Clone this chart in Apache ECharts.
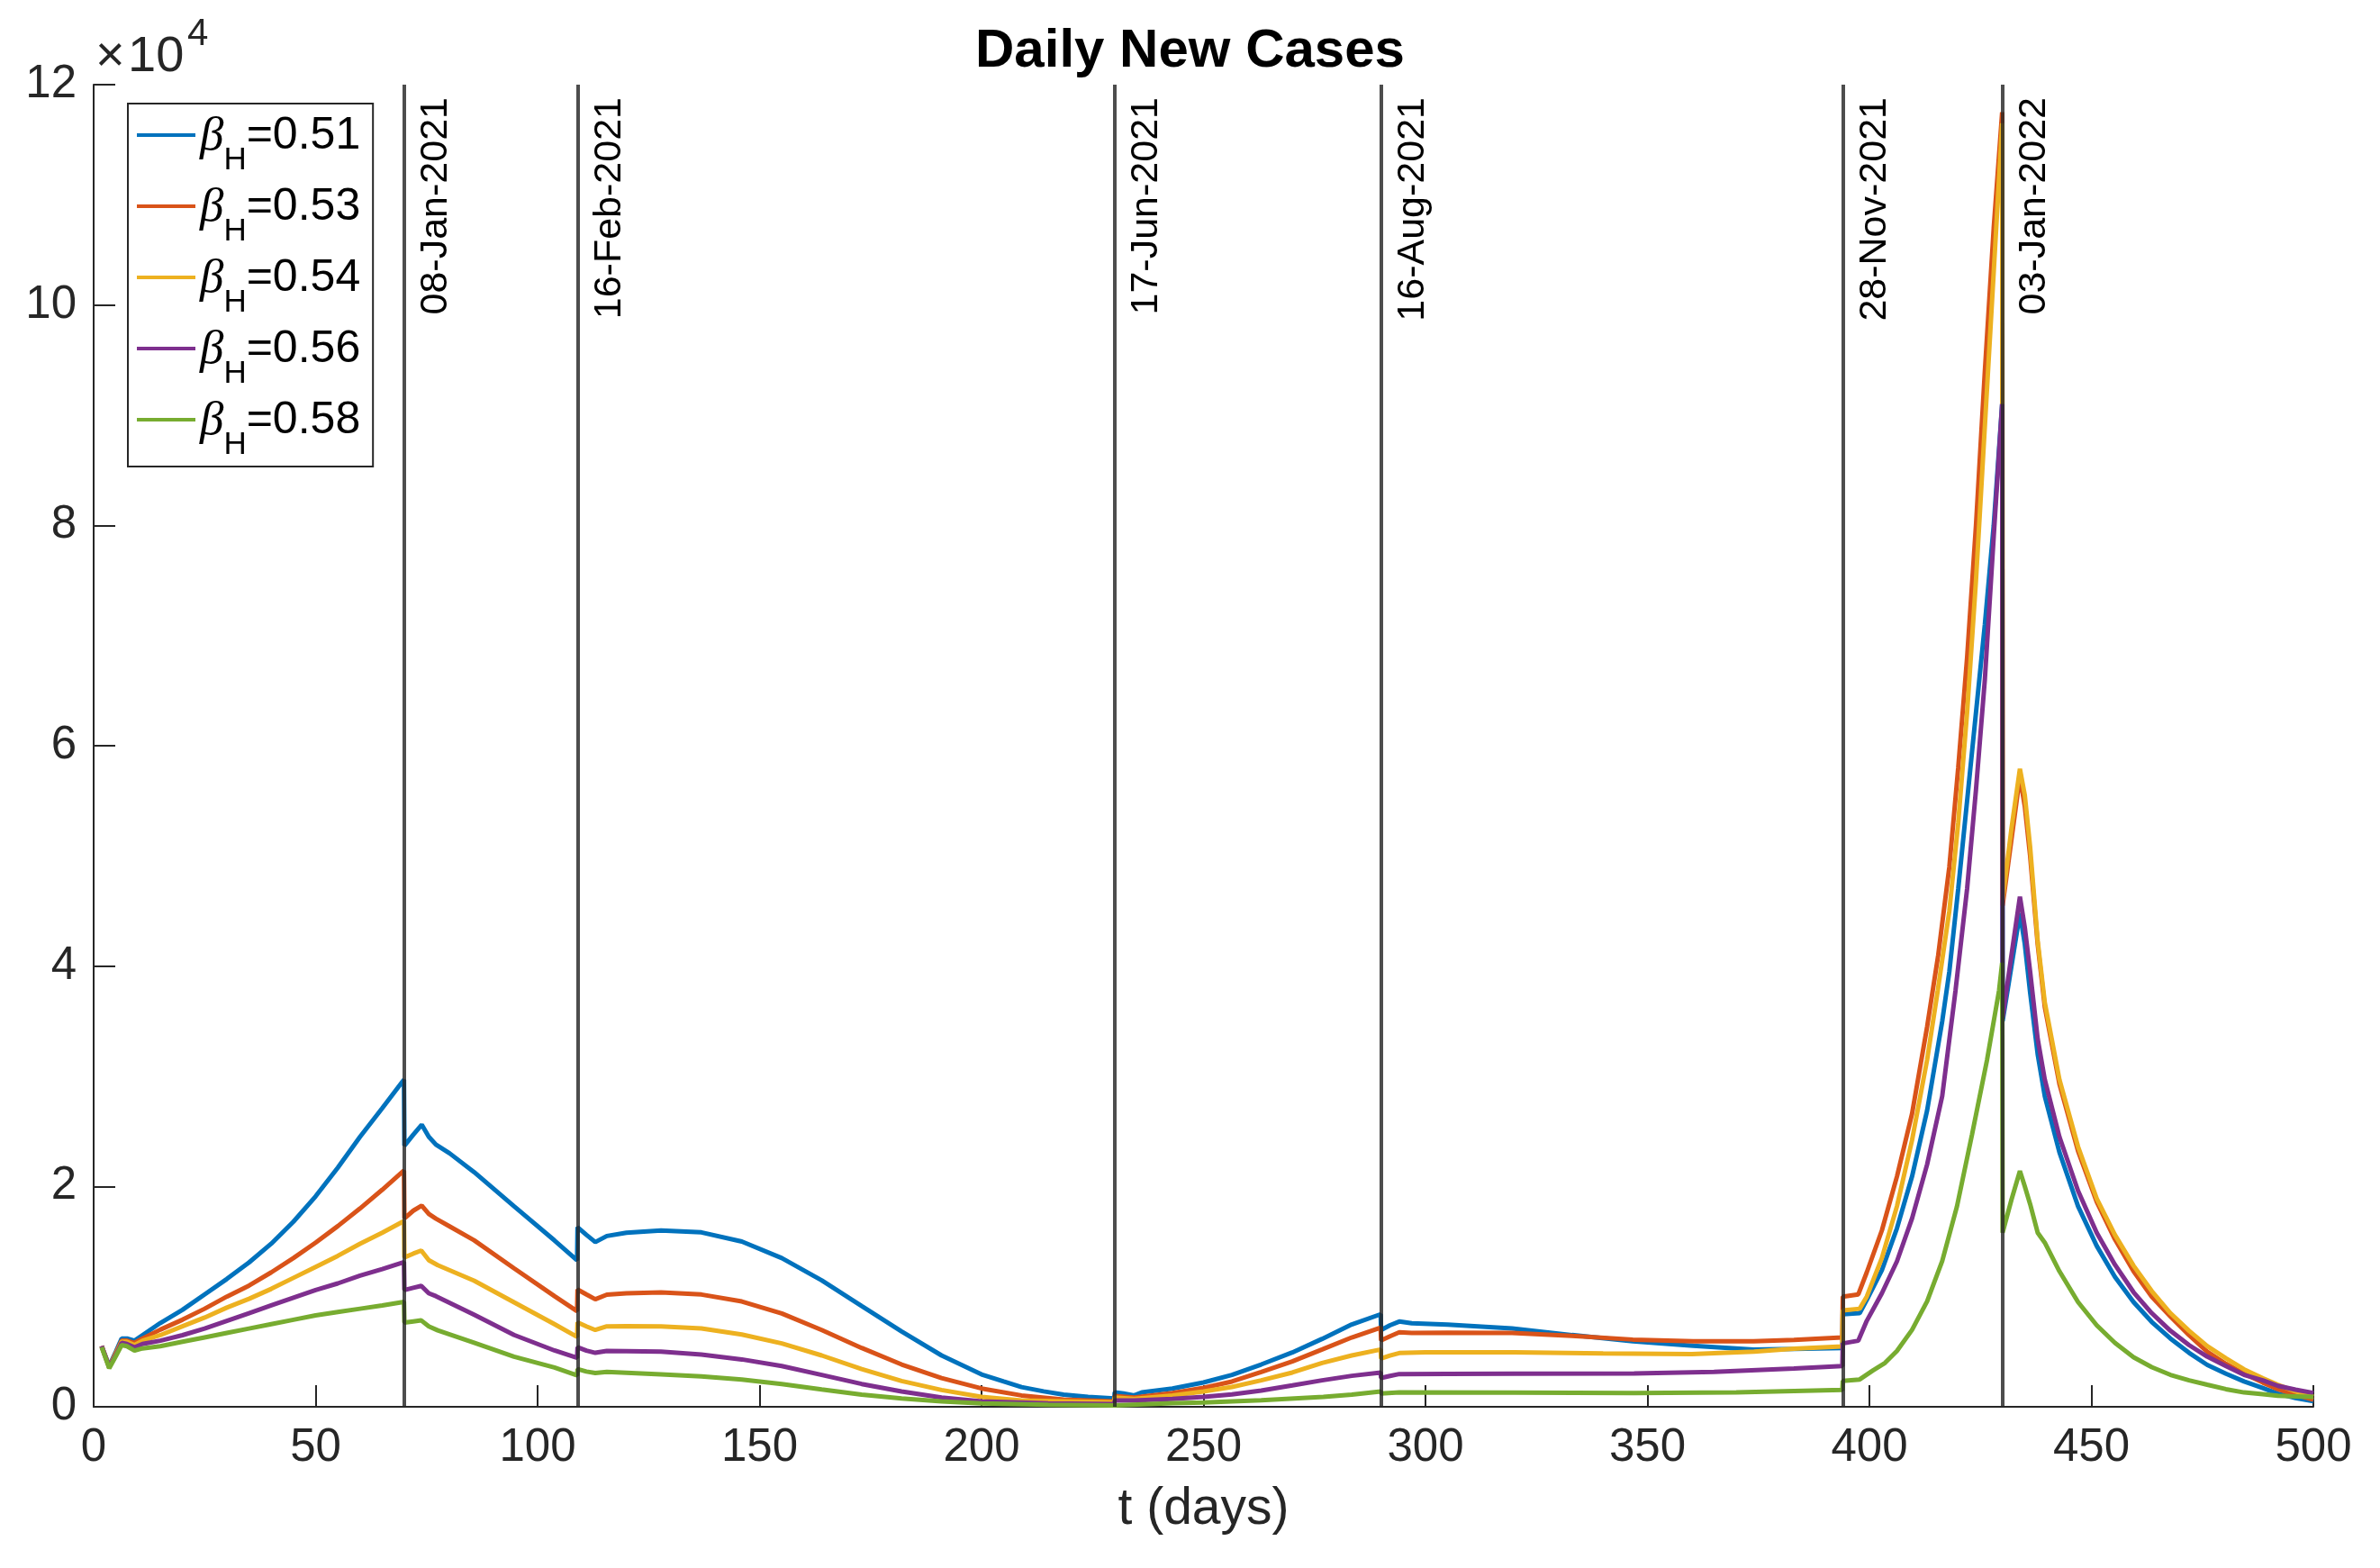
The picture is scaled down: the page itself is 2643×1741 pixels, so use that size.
<!DOCTYPE html>
<html>
<head>
<meta charset="utf-8">
<script src="https://cdn.jsdelivr.net/npm/echarts@6/dist/echarts.min.js"></script>
<style>
html,body{margin:0;padding:0;background:#fff;}
#chart{width:2643px;height:1741px;}
</style>
</head>
<body>
<div id="chart"></div>
<script>
// values in units of 10^4 daily new cases, [t (days), value]
const beta051 = [[1.8,0.55],[3.5,0.37],[5,0.5],[6.3,0.62],[7.5,0.62],[9.2,0.6],[11,0.65],[15,0.76],[20,0.88],[25,1.02],[30,1.16],[35,1.31],[40,1.48],[45,1.68],[50,1.91],[55,2.17],[60,2.45],[65,2.71],[69.9,2.97],
[70,2.37],[72,2.47],[73.9,2.56],[75.5,2.45],[77.1,2.38],[80.2,2.3],[85.7,2.13],[94.7,1.82],[103.8,1.51],[108.9,1.33],
[109,1.63],[111,1.56],[113,1.495],[115.6,1.55],[120,1.58],[127.8,1.6],[136.9,1.583],[146,1.5],[155,1.35],[164,1.147],[173,0.915],[182,0.684],[191,0.466],[200,0.294],[205,0.23],[209,0.179],[214,0.14],[218.5,0.111],[224,0.09],[229.9,0.076],
[230,0.131],[232,0.12],[234.4,0.103],[236.1,0.131],[243,0.166],[250,0.221],[256.4,0.289],[263,0.384],[270,0.493],[276.7,0.616],[283.4,0.747],[289.9,0.84],
[290,0.697],[292,0.74],[294.1,0.774],[296.9,0.758],[305,0.746],[319.5,0.711],[333,0.651],[346.7,0.594],[360.3,0.553],[373.9,0.52],[383,0.526],[393.9,0.534],
[394,0.84],[397.8,0.85],[399.4,0.97],[402.8,1.24],[406.2,1.62],[409.6,2.09],[413,2.69],[416.4,3.5],[418,3.95],[420,4.7],[422,5.5],[424,6.3],[426,7.1],[428,8.0],[429.9,9.1],
[430,3.5],[432,4.0],[433.9,4.48],[435,4.2],[436.2,3.76],[437.9,3.2],[439.5,2.82],[442.8,2.31],[447,1.82],[451.2,1.46],[455.3,1.18],[459.5,0.95],[463.6,0.77],[467.8,0.62],[472,0.49],[476.1,0.38],[480.3,0.3],[484.4,0.23],[488.6,0.17],[492,0.12],[496,0.08],[500,0.05]];

const beta053 = [[1.8,0.55],[3.5,0.36],[5,0.49],[6.3,0.6],[7.5,0.6],[9.2,0.58],[11,0.62],[15,0.7],[20,0.79],[25,0.89],[30,1.0],[35,1.1],[40,1.22],[45,1.35],[50,1.49],[55,1.64],[60,1.8],[65,1.97],[69.9,2.144],
[70,1.71],[72,1.78],[73.9,1.826],[75.5,1.75],[77.1,1.708],[80.2,1.637],[85.7,1.511],[94.7,1.257],[103.8,1.004],[108.9,0.868],
[109,1.065],[111,1.02],[113,0.976],[115.6,1.018],[120,1.03],[127.8,1.038],[136.9,1.019],[146,0.956],[155,0.847],[164,0.697],[173,0.534],[182,0.384],[191,0.261],[200,0.166],[209,0.103],[218.5,0.065],[229.9,0.05],
[230,0.098],[234.4,0.084],[243,0.125],[250,0.172],[256.4,0.229],[263,0.316],[270,0.412],[276.7,0.52],[283.4,0.629],[289.9,0.719],
[290,0.602],[292,0.64],[294.1,0.676],[296.9,0.67],[305,0.672],[319.5,0.67],[333,0.643],[346.7,0.61],[360.3,0.594],[373.9,0.594],[383,0.607],[393.9,0.629],
[394,1.0],[397.5,1.02],[399.4,1.22],[402.8,1.6],[406.2,2.09],[409.6,2.66],[413,3.45],[415.5,4.1],[418,4.9],[420,5.8],[422,6.8],[424,8.0],[426,9.4],[428,10.7],[429.9,11.75],
[430,4.55],[432,5.15],[433.9,5.72],[435,5.45],[436.2,5.0],[437.9,4.2],[439.5,3.63],[442.8,2.93],[447,2.32],[451.2,1.86],[455.3,1.52],[459.5,1.23],[463.6,1.0],[467.8,0.82],[472,0.65],[476.1,0.5],[480.3,0.39],[484.4,0.3],[488.6,0.22],[492,0.16],[496,0.11],[500,0.064]];

const beta054 = [[1.8,0.55],[3.5,0.36],[5,0.48],[6.3,0.59],[7.5,0.59],[9.2,0.56],[11,0.6],[15,0.65],[20,0.73],[25,0.81],[30,0.9],[35,0.98],[40,1.07],[45,1.17],[50,1.27],[55,1.37],[60,1.48],[65,1.58],[69.9,1.686],
[70,1.356],[72,1.39],[73.8,1.418],[75.5,1.33],[77.5,1.285],[85.7,1.145],[94.7,0.948],[103.8,0.75],[108.9,0.635],
[109,0.766],[111,0.73],[113,0.697],[115.6,0.73],[120,0.732],[127.8,0.73],[136.9,0.711],[146,0.656],[155,0.575],[164,0.466],[173,0.343],[182,0.234],[191,0.152],[200,0.09],[209,0.057],[229.9,0.04],
[230,0.084],[234.4,0.071],[243,0.103],[250,0.139],[256.4,0.18],[263,0.24],[270,0.311],[276.7,0.398],[283.4,0.466],[289.9,0.52],
[290,0.439],[292,0.465],[294.1,0.488],[300,0.495],[320,0.495],[340,0.485],[360,0.479],[374,0.501],[383,0.528],[393.9,0.547],
[394,0.874],[397.8,0.89],[399.4,1.0],[402.8,1.35],[406.2,1.82],[409.6,2.42],[413,3.15],[415.4,3.78],[418,4.5],[420,5.3],[422,6.3],[424,7.5],[426,8.9],[428,10.3],[429.9,11.65],
[430,4.6],[432,5.25],[433.9,5.79],[435,5.55],[436.2,5.08],[437.9,4.23],[439.5,3.67],[442.8,2.97],[447,2.36],[451.2,1.89],[455.3,1.56],[459.5,1.28],[463.6,1.05],[467.8,0.85],[472,0.69],[476.1,0.55],[480.3,0.44],[484.4,0.34],[488.6,0.26],[492,0.2],[496,0.14],[500,0.09]];

const beta056 = [[1.8,0.55],[3.5,0.36],[5,0.47],[6.3,0.58],[7.5,0.57],[9.2,0.54],[11,0.57],[15,0.6],[20,0.65],[25,0.71],[30,0.78],[35,0.85],[40,0.92],[45,0.99],[50,1.06],[55,1.12],[60,1.19],[65,1.25],[69.9,1.314],
[70,1.06],[72,1.08],[73.8,1.097],[75.5,1.03],[77.1,1.004],[85.7,0.835],[94.7,0.652],[103.8,0.511],[108.9,0.444],
[109,0.54],[111,0.51],[113,0.49],[115.6,0.507],[120,0.505],[127.8,0.501],[136.9,0.474],[146,0.43],[155,0.37],[164,0.289],[173,0.207],[182,0.139],[191,0.084],[200,0.049],[215,0.03],[229.9,0.025],
[230,0.057],[234.4,0.057],[243,0.071],[250,0.09],[256.4,0.112],[263,0.147],[270,0.194],[276.7,0.24],[283.4,0.281],[289.9,0.311],
[290,0.262],[292,0.28],[294.1,0.297],[305,0.298],[320,0.3],[347,0.302],[365,0.316],[383,0.348],[393.9,0.37],
[394,0.575],[397.5,0.6],[399.4,0.78],[402.8,1.03],[406.2,1.32],[409.6,1.71],[413,2.2],[416.4,2.82],[419.4,3.78],[422,4.7],[424,5.6],[426,6.6],[428,7.9],[429.9,9.1],
[430,3.53],[432,4.1],[433.9,4.63],[435,4.35],[436.2,3.95],[437.9,3.34],[439.5,2.97],[442.8,2.45],[447,1.96],[451.2,1.58],[455.3,1.29],[459.5,1.04],[463.6,0.85],[467.8,0.69],[472,0.56],[476.1,0.455],[480.3,0.37],[484.4,0.29],[488.6,0.24],[492,0.19],[496,0.155],[500,0.126]];

const beta058 = [[1.8,0.54],[3.5,0.35],[5,0.46],[6.3,0.56],[7.5,0.55],[9.2,0.51],[11,0.53],[15,0.55],[20,0.59],[25,0.63],[30,0.67],[35,0.71],[40,0.75],[45,0.79],[50,0.83],[55,0.86],[60,0.89],[65,0.92],[69.9,0.953],
[70,0.765],[72,0.775],[73.8,0.784],[75.5,0.73],[77.5,0.694],[85.7,0.582],[94.7,0.455],[103.8,0.356],[108.9,0.286],
[109,0.342],[111,0.32],[113,0.306],[115.6,0.316],[127.8,0.294],[136.9,0.275],[146,0.248],[155,0.207],[164,0.158],[173,0.111],[182,0.076],[191,0.049],[200,0.03],[215,0.018],[229.9,0.012],
[230,0.025],[243,0.032],[250,0.038],[263,0.06],[277,0.09],[283.4,0.11],[289.9,0.139],
[290,0.12],[294.1,0.13],[320,0.128],[347,0.125],[370,0.13],[393.9,0.153],
[394,0.235],[397.8,0.248],[400.8,0.33],[403.5,0.398],[406.2,0.507],[409.6,0.698],[413,0.957],[416.4,1.324],[419.7,1.815],[423.1,2.469],[426.5,3.15],[429.2,3.778],[429.9,4.03],
[430,1.58],[432,1.88],[433.9,2.14],[435,2.0],[436.2,1.84],[437.9,1.58],[439.5,1.49],[442.8,1.23],[447,0.95],[451.2,0.74],[455.3,0.58],[459.5,0.45],[463.6,0.36],[467.8,0.29],[472,0.24],[476.1,0.2],[480.3,0.16],[484.4,0.13],[488.6,0.115],[492,0.1],[496,0.095],[500,0.09]];

const betaNames = ['0.51','0.53','0.54','0.56','0.58'];
const seriesData = [beta051, beta053, beta054, beta056, beta058];
const seriesColors = ['#0072BD','#D95319','#EDB120','#7E2F8E','#77AC30'];

const eventDays = [70, 109, 230, 290, 394, 430];
const eventLabels = ['08-Jan-2021','16-Feb-2021','17-Jun-2021','16-Aug-2021','28-Nov-2021','03-Jan-2022'];

const xTicks = {min: 0, max: 500, interval: 50};
const yTicks = {min: 0, max: 12, interval: 2};

const FONT = '"Liberation Sans", Arial, Helvetica, sans-serif';
const AX = '#262626';

const chart = echarts.init(document.getElementById('chart'));

const series = seriesData.map((d, i) => ({
  name: betaNames[i],
  type: 'line',
  data: d,
  showSymbol: false,
  symbol: 'none',
  smooth: false,
  animation: false,
  lineStyle: {color: seriesColors[i], width: 5},
  itemStyle: {color: seriesColors[i]},
  z: 2
}));

series.push({
  name: 'events',
  type: 'line',
  data: [],
  z: 5,
  silent: true,
  animation: false,
  markLine: {
    silent: true,
    symbol: ['none','none'],
    animation: false,
    label: {show: false},
    lineStyle: {color: 'rgba(38,38,38,0.82)', width: 4, type: 'solid'},
    data: eventDays.map(d => ({xAxis: d}))
  }
});

chart.setOption({
  backgroundColor: '#ffffff',
  animation: false,
  title: {
    text: 'Daily New Cases',
    left: 'center',
    top: 22,
    textStyle: {fontFamily: FONT, fontWeight: 'bold', fontSize: 60, color: '#000', lineHeight: 60}
  },
  grid: {left: 104, right: 74, top: 94, bottom: 179, containLabel: false},
  legend: {
    data: betaNames,
    orient: 'vertical',
    left: 142,
    top: 115,
    icon: 'rect',
    itemWidth: 65,
    itemHeight: 4,
    itemGap: 9,
    padding: [11, 14, 6, 10],
    borderColor: AX,
    borderWidth: 2,
    borderRadius: 0,
    backgroundColor: '#ffffff',
    selectedMode: false,
    formatter: name => '{b|β}{s|H}{n|=' + name + '}',
    textStyle: {
      fontFamily: FONT,
      color: '#000',
      rich: {
        b: {fontFamily: '"Liberation Serif", "DejaVu Serif", serif', fontStyle: 'italic', fontSize: 53, lineHeight: 48, verticalAlign: 'top', color: '#000'},
        s: {fontFamily: FONT, fontSize: 35, lineHeight: 35, padding: [35, 0, 0, 0], verticalAlign: 'top', color: '#000'},
        n: {fontFamily: FONT, fontSize: 50, lineHeight: 48, verticalAlign: 'top', color: '#000'}
      }
    }
  },
  xAxis: {
    type: 'value',
    min: xTicks.min, max: xTicks.max, interval: xTicks.interval,
    name: 't (days)',
    nameLocation: 'middle',
    nameGap: 86,
    nameTextStyle: {fontFamily: FONT, fontSize: 57, color: AX},
    axisLine: {show: true, onZero: false, lineStyle: {color: AX, width: 2}},
    axisTick: {show: true, inside: true, length: 24, lineStyle: {color: AX, width: 2}},
    axisLabel: {fontFamily: FONT, fontSize: 51, color: AX, margin: 20},
    splitLine: {show: false}
  },
  yAxis: {
    type: 'value',
    min: yTicks.min, max: yTicks.max, interval: yTicks.interval,
    axisLine: {show: true, onZero: false, lineStyle: {color: AX, width: 2}},
    axisTick: {show: true, inside: true, length: 24, lineStyle: {color: AX, width: 2}},
    axisLabel: {fontFamily: FONT, fontSize: 51, color: AX, margin: 19},
    splitLine: {show: false}
  },
  series: series
});

// event date labels and the x10^4 exponent, positioned through the axes
const topY = chart.convertToPixel({yAxisIndex: 0}, yTicks.max);
const axisX0 = chart.convertToPixel({xAxisIndex: 0}, xTicks.min);
const graphics = eventDays.map((d, i) => ({
  type: 'text',
  x: chart.convertToPixel({xAxisIndex: 0}, d) + 57,
  y: topY + 14,
  rotation: Math.PI / 2,
  silent: true,
  z: 10,
  style: {text: eventLabels[i], fontFamily: FONT, fontSize: 43, fill: '#000', align: 'right', verticalAlign: 'bottom'}
}));
graphics.push({
  type: 'text', x: axisX0 + 2, y: topY - 30, silent: true,
  style: {text: '×', fontFamily: FONT, fontSize: 56, fill: AX, align: 'left', verticalAlign: 'middle'}
});
graphics.push({
  type: 'text', x: axisX0 + 38, y: topY - 30, silent: true,
  style: {text: '10', fontFamily: FONT, fontSize: 56, fill: AX, align: 'left', verticalAlign: 'middle'}
});
graphics.push({
  type: 'text', x: axisX0 + 104, y: topY - 56, silent: true,
  style: {text: '4', fontFamily: FONT, fontSize: 42, fill: AX, align: 'left', verticalAlign: 'middle'}
});
chart.setOption({graphic: graphics});
</script>
</body>
</html>
